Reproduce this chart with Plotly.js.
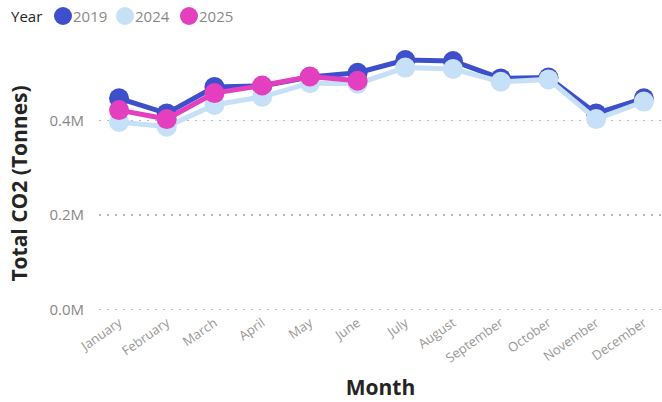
<!DOCTYPE html>
<html>
<head>
<meta charset="utf-8">
<script src="https://cdn.plot.ly/plotly-3.0.1.min.js"></script>
<style>html,body{margin:0;padding:0;background:#fff;}#chart{width:662px;height:402px;}</style>
</head>
<body>
<div id="chart"></div>
<script>
const months = ["January","February","March","April","May","June","July","August","September","October","November","December"];
const years = ["2019","2024","2025"];
const co2_2019 = [447000, 415000, 471000, 473000, 492000, 501000, 528000, 526000, 489000, 491000, 415000, 447000];
const co2_2024 = [397000, 387000, 433000, 450000, 479000, 478000, 512000, 509000, 482000, 487000, 403000, 440000];
const co2_2025 = [422000, 403000, 458000, 474000, 493000, 484000];
const colors = ["#3E4FCB", "#C6E0F7", "#E33FBF"];
const seriesValues = [co2_2019, co2_2024, co2_2025];

const font = "'Open Sans', 'Noto Sans', sans-serif";
const W = 662, H = 402, ML = 99, MR = 0, MT = 55, MB = 90;
const PW = W - ML - MR, PH = H - MT - MB;
const px = v => (v - ML) / PW;          // pixel x -> paper x
const py = v => (H - MB - v) / PH;      // pixel y -> paper y

const traces = [];
seriesValues.forEach((vals, i) => {
  traces.push({
    type: "scatter", mode: "lines+markers", name: years[i],
    x: months.slice(0, vals.length), y: vals,
    line: {color: colors[i], width: 5},
    marker: {color: colors[i], size: 20},
    cliponaxis: false,
    showlegend: false, hoverinfo: "x+y"
  });
});

// legend (drawn as shapes + annotations to match the compact layout)
const shapes = [];
const annotations = [];
const legendY = 16;
annotations.push({xref: "paper", yref: "paper", x: px(9), y: py(legendY), xanchor: "left", yanchor: "middle",
  text: "Year", showarrow: false, font: {size: 15, color: "#252423", family: font}});
const itemX = [63, 125, 189];
years.forEach((yr, i) => {
  const cx = itemX[i], r = 9;
  shapes.push({type: "circle", xref: "paper", yref: "paper",
    x0: px(cx - r), x1: px(cx + r), y0: py(legendY + r), y1: py(legendY - r),
    fillcolor: colors[i], line: {width: 0}});
  annotations.push({xref: "paper", yref: "paper", x: px(cx + 8), y: py(legendY), xanchor: "left", yanchor: "middle",
    text: yr, showarrow: false, font: {size: 15, color: "#8A8886", family: font}});
});

const layout = {
  width: W, height: H,
  margin: {l: ML, r: MR, t: MT, b: MB},
  paper_bgcolor: "#fff", plot_bgcolor: "#fff",
  font: {family: font, color: "#605E5C"},
  showlegend: false,
  shapes: shapes,
  annotations: annotations,
  xaxis: {
    type: "category", categoryorder: "array", categoryarray: months,
    range: [-0.42, 11.38],
    showgrid: false, zeroline: false, showline: false, ticks: "",
    tickangle: -35, tickfont: {size: 13, color: "#9A9896", family: font},
    title: {text: "Month", font: {size: 21, color: "#252423", family: font, weight: "bold"}, standoff: 14},
    automargin: false
  },
  yaxis: {
    range: [-5300, 538600],
    tickvals: [0, 200000, 400000], ticktext: ["0.0M", "0.2M", "0.4M"],
    showgrid: true, gridcolor: "#BDBBB9", griddash: "1.5px,6.5px", gridwidth: 1.5,
    zeroline: false, showline: false, ticks: "",
    tickfont: {size: 15, color: "#8A8886", family: font},
    ticklabelstandoff: 14,
    title: {text: "Total CO2 (Tonnes)", font: {size: 21, color: "#252423", family: font, weight: "bold"}, standoff: 16},
    automargin: false
  }
};

Plotly.newPlot("chart", traces, layout, {displayModeBar: false, staticPlot: true});
</script>
</body>
</html>
